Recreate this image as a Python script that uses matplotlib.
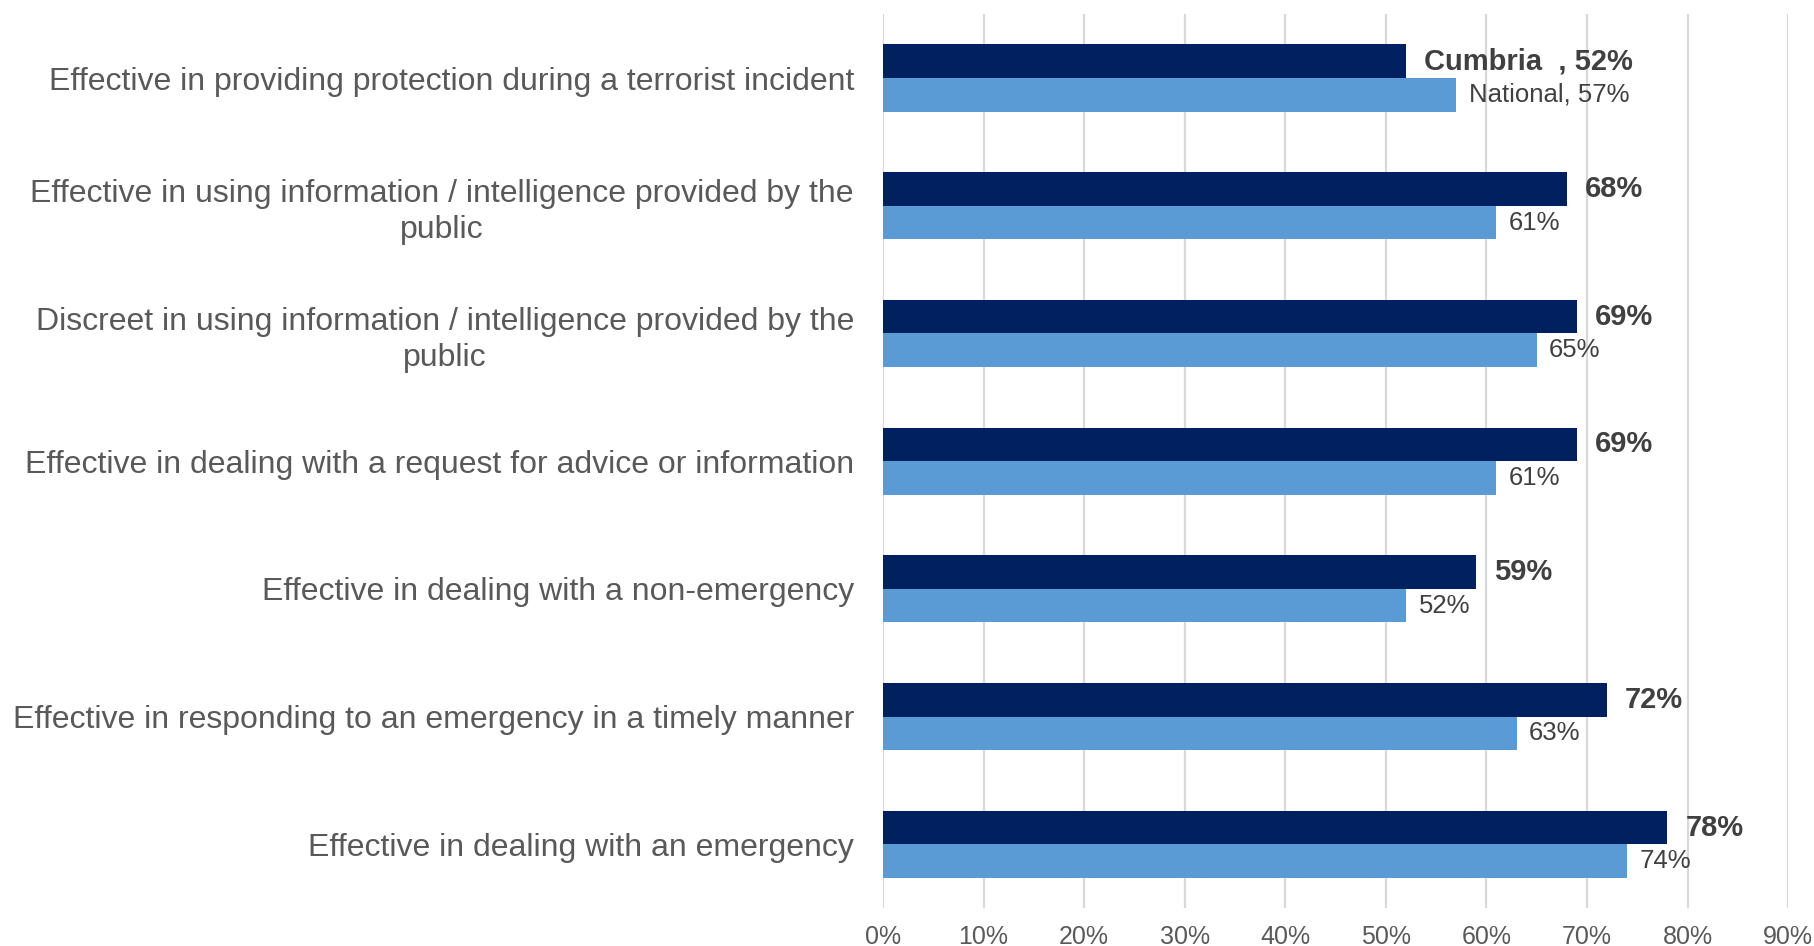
import matplotlib.pyplot as plt
import numpy as np

categories = [
    "Effective in providing protection during a terrorist incident",
    "Effective in using information / intelligence provided by the\npublic",
    "Discreet in using information / intelligence provided by the\npublic",
    "Effective in dealing with a request for advice or information",
    "Effective in dealing with a non-emergency",
    "Effective in responding to an emergency in a timely manner",
    "Effective in dealing with an emergency",
]
cumbria = [0.52, 0.68, 0.69, 0.69, 0.59, 0.72, 0.78]
national = [0.57, 0.61, 0.65, 0.61, 0.52, 0.63, 0.74]
cumbria_labels = ["Cumbria  , 52%", "68%", "69%", "69%", "59%", "72%", "78%"]
national_labels = ["National, 57%", "61%", "65%", "61%", "52%", "63%", "74%"]
xticks = [0, 0.1, 0.2, 0.3, 0.4, 0.5, 0.6, 0.7, 0.8, 0.9]

DARK = "#002060"
LIGHT = "#5b9bd5"
GREY = "#595959"

plt.rcParams["font.family"] = ["Liberation Sans", "DejaVu Sans"]

fig = plt.figure(figsize=(18.14, 9.46), dpi=100)
ax = fig.add_axes([0.4868, 0.04, 0.4989, 0.945])

y = np.arange(len(categories))
h = 0.263
ax.barh(y - h / 2, cumbria, height=h, color=DARK, zorder=3)
ax.barh(y + h / 2, national, height=h, color=LIGHT, zorder=3)

for i in range(len(categories)):
    ax.annotate(cumbria_labels[i], (cumbria[i], y[i] - h / 2), xytext=(13, 0),
                textcoords="offset points", va="center", ha="left",
                fontsize=21, fontweight="bold", color="#404040")
    ax.annotate(national_labels[i], (national[i], y[i] + h / 2), xytext=(9, 0),
                textcoords="offset points", va="center", ha="left",
                fontsize=18.5, color="#404040")

ax.set_ylim(len(categories) - 0.5, -0.5)
ax.set_xlim(0, 0.9)
ax.set_yticks(y)
ax.set_yticklabels(categories, fontsize=23, color=GREY, multialignment="center",
                   linespacing=1.25)
ax.set_xticks(xticks)
ax.set_xticklabels([f"{int(round(t * 100))}%" for t in xticks], fontsize=18, color=GREY)
ax.tick_params(axis="both", length=0)
ax.tick_params(axis="y", pad=21)
ax.tick_params(axis="x", pad=12)
for s in ax.spines.values():
    s.set_visible(False)
ax.grid(axis="x", color="#d9d9d9", linewidth=1.6, zorder=0)
ax.set_axisbelow(True)

fig.savefig("out.png", dpi=100)
